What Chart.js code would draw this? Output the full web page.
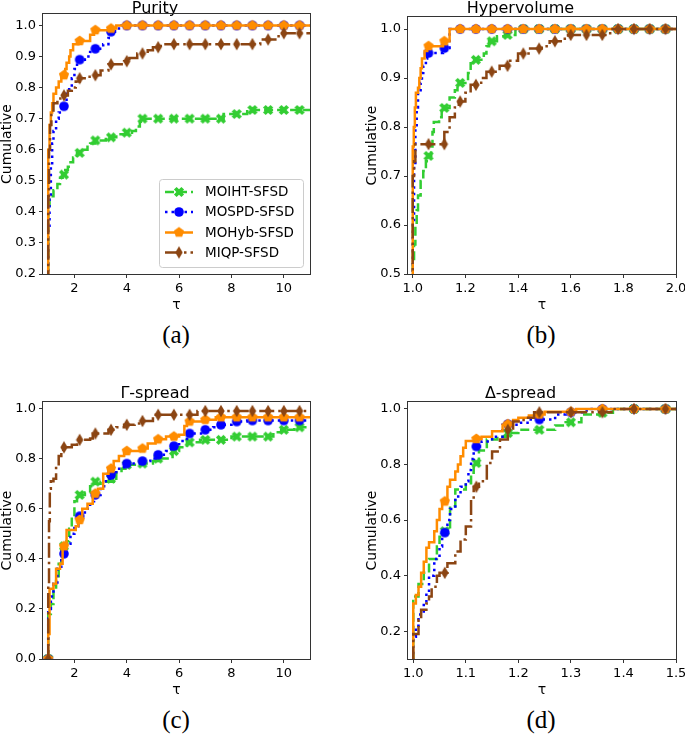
<!DOCTYPE html>
<html>
<head>
<meta charset="utf-8">
<script src="https://cdn.jsdelivr.net/npm/chart.js@4.4.1/dist/chart.umd.min.js"></script>
<style>
  body { margin: 0; background: #fff; width: 685px; height: 734px; position: relative; overflow: hidden; }
  canvas { position: absolute; }
  .cap { position: absolute; font-family: "Liberation Serif", serif; font-size: 25px; transform: translate(-50%, -50%); color: #000; }
</style>
</head>
<body>
<canvas id="cA" width="320" height="314" style="left:0;top:0"></canvas>
<canvas id="cB" width="320" height="314" style="left:365px;top:0"></canvas>
<canvas id="cC" width="320" height="314" style="left:0;top:385px"></canvas>
<canvas id="cD" width="320" height="314" style="left:365px;top:385px"></canvas>
<div class="cap" style="left:176px;top:335px">(a)</div>
<div class="cap" style="left:541px;top:335px">(b)</div>
<div class="cap" style="left:176px;top:720px">(c)</div>
<div class="cap" style="left:541px;top:720px">(d)</div>
<script>
// 手法名
const methods = ["MOIHT-SFSD", "MOSPD-SFSD", "MOHyb-SFSD", "MIQP-SFSD"]

// 目盛り
const xTicksA = [2, 4, 6, 8, 10]
const yTicksA = [0.2, 0.3, 0.4, 0.5, 0.6, 0.7, 0.8, 0.9, 1.0]
const xTicksB = [1.0, 1.2, 1.4, 1.6, 1.8, 2.0]
const yTicksB = [0.5, 0.6, 0.7, 0.8, 0.9, 1.0]
const xTicksC = [2, 4, 6, 8, 10]
const yTicksC = [0.0, 0.2, 0.4, 0.6, 0.8, 1.0]
const xTicksD = [1.0, 1.1, 1.2, 1.3, 1.4, 1.5]
const yTicksD = [0.2, 0.4, 0.6, 0.8, 1.0]

// マーカーの位置 (tau)
const mkA = [1.0, 1.6, 2.2, 2.8, 3.4, 4.0, 4.6, 5.2, 5.8, 6.4, 7.0, 7.6, 8.2, 8.8, 9.4, 10.0, 10.6]
const mkB = [1.0, 1.06, 1.12, 1.18, 1.24, 1.3, 1.36, 1.42, 1.48, 1.54, 1.6, 1.66, 1.72, 1.78, 1.84, 1.9, 1.96]
const mkC = [1.0, 1.6, 2.2, 2.8, 3.4, 4.0, 4.6, 5.2, 5.8, 6.4, 7.0, 7.6, 8.2, 8.8, 9.4, 10.0, 10.6]
const mkD = [1.0, 1.06, 1.12, 1.18, 1.24, 1.3, 1.36, 1.42, 1.48]

// (a) Purity  [tau, cumulative]
const purityMOIHT = [[1.0, 0], [1.0, 0.42], [1.05, 0.44], [1.1, 0.45], [1.2, 0.47], [1.35, 0.49], [1.45, 0.51], [1.55, 0.52], [1.65, 0.535], [1.75, 0.545], [1.85, 0.56], [1.95, 0.575], [2.1, 0.59], [2.35, 0.6], [2.5, 0.61], [2.6, 0.62], [2.8, 0.63], [3.2, 0.64], [3.6, 0.65], [4.2, 0.66], [4.35, 0.675], [4.5, 0.69], [4.6, 0.7], [7.7, 0.715], [8.6, 0.728]]
const purityMOSPD = [[1.0, 0], [1.0, 0.35], [1.05, 0.45], [1.1, 0.55], [1.15, 0.62], [1.2, 0.66], [1.3, 0.7], [1.4, 0.72], [1.5, 0.74], [1.7, 0.78], [1.8, 0.8], [1.9, 0.83], [2.0, 0.86], [2.1, 0.88], [2.2, 0.89], [2.4, 0.9], [2.6, 0.915], [2.75, 0.925], [3.1, 0.94], [3.3, 0.96], [3.4, 0.98], [3.55, 0.99], [3.8, 1.0]]
const purityMOHyb = [[1.0, 0], [1.0, 0.6], [1.05, 0.68], [1.1, 0.72], [1.15, 0.75], [1.2, 0.78], [1.3, 0.8], [1.4, 0.82], [1.5, 0.84], [1.65, 0.86], [1.7, 0.88], [1.8, 0.9], [1.85, 0.92], [1.95, 0.94], [2.15, 0.95], [2.6, 0.97], [2.75, 0.985], [3.3, 0.99], [3.6, 1.0]]
const purityMIQP = [[1.0, 0], [1.0, 0.45], [1.03, 0.6], [1.07, 0.68], [1.12, 0.72], [1.2, 0.75], [1.35, 0.765], [1.55, 0.775], [1.75, 0.79], [1.9, 0.8], [2.05, 0.82], [2.2, 0.83], [2.5, 0.835], [2.65, 0.84], [3.0, 0.855], [3.3, 0.875], [3.9, 0.885], [4.1, 0.895], [4.4, 0.91], [4.8, 0.92], [5.0, 0.93], [5.3, 0.94], [9.1, 0.955], [9.8, 0.975]]
const purityMkMOIHT = [0, 0.52, 0.59, 0.63, 0.64, 0.655, 0.7, 0.7, 0.7, 0.7, 0.7, 0.7, 0.715, 0.728, 0.728, 0.728, 0.728]
const purityMkMOSPD = [0, 0.74, 0.89, 0.925, 0.98, 1, 1, 1, 1, 1, 1, 1, 1, 1, 1, 1, 1]
const purityMkMOHyb = [0, 0.84, 0.95, 0.985, 0.99, 1, 1, 1, 1, 1, 1, 1, 1, 1, 1, 1, 1]
const purityMkMIQP = [0, 0.775, 0.83, 0.84, 0.875, 0.885, 0.91, 0.93, 0.94, 0.94, 0.94, 0.94, 0.94, 0.94, 0.955, 0.975, 0.975]

// (b) Hypervolume
const hvMOIHT = [[1.0, 0], [1.0, 0.52], [1.005, 0.56], [1.01, 0.6], [1.015, 0.63], [1.02, 0.66], [1.03, 0.69], [1.04, 0.71], [1.05, 0.73], [1.06, 0.741], [1.07, 0.76], [1.075, 0.79], [1.08, 0.81], [1.1, 0.82], [1.11, 0.839], [1.14, 0.86], [1.16, 0.875], [1.17, 0.89], [1.2, 0.895], [1.21, 0.91], [1.22, 0.93], [1.23, 0.937], [1.27, 0.95], [1.28, 0.965], [1.29, 0.975], [1.32, 0.985], [1.35, 0.988], [1.39, 1.0]]
const hvMOSPD = [[1.0, 0], [1.0, 0.6], [1.005, 0.72], [1.01, 0.8], [1.015, 0.84], [1.02, 0.87], [1.03, 0.89], [1.035, 0.91], [1.04, 0.925], [1.05, 0.94], [1.055, 0.951], [1.115, 0.961], [1.14, 1.0]]
const hvMOHyb = [[1.0, 0], [1.0, 0.76], [1.004, 0.8], [1.008, 0.84], [1.012, 0.87], [1.02, 0.88], [1.025, 0.9], [1.03, 0.92], [1.035, 0.94], [1.045, 0.955], [1.055, 0.965], [1.115, 0.975], [1.14, 1.0]]
const hvMIQP = [[1.0, 0], [1.0, 0.7], [1.005, 0.73], [1.01, 0.765], [1.12, 0.79], [1.14, 0.82], [1.16, 0.84], [1.175, 0.852], [1.2, 0.87], [1.22, 0.886], [1.26, 0.9], [1.28, 0.913], [1.33, 0.925], [1.37, 0.935], [1.4, 0.95], [1.44, 0.96], [1.49, 0.965], [1.52, 0.975], [1.57, 0.98], [1.59, 0.988], [1.75, 1.0]]
const hvMkMOIHT = [0, 0.741, 0.839, 0.89, 0.937, 0.975, 0.988, 1, 1, 1, 1, 1, 1, 1, 1, 1, 1]
const hvMkMOSPD = [0, 0.951, 0.961, 1, 1, 1, 1, 1, 1, 1, 1, 1, 1, 1, 1, 1, 1]
const hvMkMOHyb = [0, 0.965, 0.975, 1, 1, 1, 1, 1, 1, 1, 1, 1, 1, 1, 1, 1, 1]
const hvMkMIQP = [0, 0.765, 0.765, 0.852, 0.886, 0.913, 0.925, 0.95, 0.96, 0.975, 0.988, 0.988, 0.988, 1, 1, 1, 1]

// (c) Γ-spread
const gsMOIHT = [[1.0, 0], [1.0, 0.18], [1.1, 0.22], [1.2, 0.27], [1.3, 0.33], [1.4, 0.38], [1.5, 0.44], [1.7, 0.47], [1.8, 0.52], [1.9, 0.57], [2.0, 0.63], [2.1, 0.655], [2.4, 0.665], [2.6, 0.69], [2.7, 0.7], [3.0, 0.708], [3.5, 0.72], [3.6, 0.745], [3.8, 0.76], [3.95, 0.775], [4.5, 0.78], [5.0, 0.79], [5.2, 0.8], [5.75, 0.83], [6.0, 0.845], [6.3, 0.865], [6.8, 0.875], [8.0, 0.888], [9.6, 0.905], [9.9, 0.915], [10.4, 0.925]]
const gsMOSPD = [[1.0, 0], [1.0, 0.2], [1.1, 0.25], [1.2, 0.3], [1.35, 0.36], [1.5, 0.4], [1.6, 0.42], [1.7, 0.46], [1.85, 0.5], [2.0, 0.53], [2.15, 0.57], [2.4, 0.6], [2.6, 0.63], [2.75, 0.655], [3.0, 0.69], [3.2, 0.72], [3.35, 0.735], [3.6, 0.76], [3.9, 0.78], [4.5, 0.79], [4.9, 0.8], [5.1, 0.815], [5.5, 0.83], [5.7, 0.85], [6.0, 0.87], [6.3, 0.9], [6.9, 0.915], [7.3, 0.925], [7.5, 0.935], [8.0, 0.948], [8.6, 0.952]]
const gsMOHyb = [[1.0, 0], [1.0, 0.1], [1.05, 0.28], [1.2, 0.3], [1.3, 0.36], [1.45, 0.38], [1.55, 0.45], [1.7, 0.515], [2.05, 0.53], [2.15, 0.555], [2.3, 0.6], [2.5, 0.62], [2.7, 0.66], [2.9, 0.68], [3.1, 0.74], [3.3, 0.76], [3.5, 0.79], [3.7, 0.81], [3.9, 0.83], [4.5, 0.84], [4.8, 0.86], [5.1, 0.877], [5.5, 0.888], [6.0, 0.895], [6.2, 0.93], [6.3, 0.948], [6.9, 0.955], [7.4, 0.965]]
const gsMIQP = [[1.0, 0], [1.0, 0.3], [1.03, 0.55], [1.06, 0.68], [1.1, 0.71], [1.2, 0.72], [1.3, 0.77], [1.4, 0.81], [1.5, 0.835], [1.7, 0.845], [1.9, 0.855], [2.1, 0.875], [2.6, 0.88], [2.7, 0.9], [3.3, 0.915], [3.6, 0.925], [3.9, 0.935], [4.3, 0.94], [4.6, 0.95], [5.0, 0.975], [6.7, 0.99]]
const gsMkMOIHT = [0, 0.45, 0.655, 0.708, 0.72, 0.775, 0.78, 0.8, 0.83, 0.865, 0.875, 0.875, 0.888, 0.888, 0.888, 0.915, 0.925]
const gsMkMOSPD = [0, 0.42, 0.57, 0.655, 0.735, 0.78, 0.79, 0.815, 0.85, 0.9, 0.915, 0.935, 0.948, 0.952, 0.952, 0.952, 0.952]
const gsMkMOHyb = [0, 0.45, 0.555, 0.66, 0.76, 0.83, 0.84, 0.877, 0.888, 0.948, 0.955, 0.965, 0.965, 0.965, 0.965, 0.965, 0.965]
const gsMkMIQP = [0, 0.845, 0.875, 0.9, 0.915, 0.935, 0.95, 0.975, 0.975, 0.975, 0.99, 0.99, 0.99, 0.99, 0.99, 0.99, 0.99]

// (d) Δ-spread
const dsMOIHT = [[1.0, 0], [1.0, 0.325], [1.01, 0.37], [1.02, 0.41], [1.03, 0.46], [1.045, 0.505], [1.05, 0.54], [1.06, 0.56], [1.07, 0.65], [1.08, 0.71], [1.1, 0.733], [1.11, 0.77], [1.115, 0.805], [1.125, 0.85], [1.14, 0.89], [1.16, 0.9], [1.18, 0.913], [1.2, 0.925], [1.27, 0.94], [1.29, 0.952], [1.32, 0.98], [1.36, 0.986], [1.38, 1.0]]
const dsMOSPD = [[1.0, 0], [1.0, 0.18], [1.005, 0.22], [1.01, 0.26], [1.02, 0.3], [1.025, 0.34], [1.03, 0.4], [1.04, 0.46], [1.05, 0.505], [1.055, 0.555], [1.065, 0.6], [1.07, 0.64], [1.08, 0.685], [1.09, 0.72], [1.1, 0.74], [1.105, 0.78], [1.11, 0.82], [1.115, 0.865], [1.13, 0.883], [1.15, 0.9], [1.17, 0.943], [1.2, 0.95], [1.22, 0.962], [1.27, 0.98], [1.29, 0.988], [1.33, 1.0]]
const dsMOHyb = [[1.0, 0], [1.0, 0.3], [1.005, 0.33], [1.01, 0.36], [1.015, 0.41], [1.02, 0.45], [1.025, 0.5], [1.03, 0.52], [1.04, 0.56], [1.045, 0.6], [1.05, 0.64], [1.055, 0.667], [1.065, 0.72], [1.07, 0.745], [1.08, 0.775], [1.085, 0.8], [1.09, 0.83], [1.095, 0.86], [1.1, 0.885], [1.12, 0.892], [1.13, 0.9], [1.15, 0.92], [1.17, 0.943], [1.19, 0.96], [1.2, 0.968], [1.22, 0.976], [1.24, 0.98], [1.25, 0.99], [1.31, 1.0]]
const dsMIQP = [[1.0, 0], [1.0, 0.19], [1.01, 0.24], [1.015, 0.277], [1.025, 0.3], [1.03, 0.325], [1.035, 0.36], [1.045, 0.4], [1.05, 0.41], [1.065, 0.445], [1.08, 0.487], [1.09, 0.53], [1.1, 0.577], [1.11, 0.673], [1.115, 0.72], [1.125, 0.74], [1.14, 0.805], [1.15, 0.847], [1.165, 0.89], [1.18, 0.925], [1.19, 0.955], [1.21, 0.968], [1.23, 0.988], [1.38, 1.0]]
const dsMkMOIHT = [0, 0.56, 0.805, 0.913, 0.925, 0.952, 0.986, 1, 1]
const dsMkMOSPD = [0, 0.555, 0.865, 0.945, 0.962, 0.988, 1, 1, 1]
const dsMkMOHyb = [0, 0.667, 0.892, 0.945, 0.98, 0.99, 1, 1, 1]
const dsMkMIQP = [0, 0.41, 0.72, 0.925, 0.988, 0.988, 0.988, 1, 1]

// 見た目
const colors = ["#32cd32", "#0000ff", "#ff8c00", "#8b4513"]
const dashes = [[9, 4], [2.5, 4], [], [15, 4, 2.5, 4]]
const shapes = ["X", "o", "p", "d"]
const fontFamily = "'DejaVu Sans', sans-serif"

function makeMarker(shape, color) {
  const c = document.createElement("canvas")
  c.width = 14
  c.height = 14
  const g = c.getContext("2d")
  g.fillStyle = color
  g.translate(7, 7)
  g.beginPath()
  if (shape === "o") {
    g.arc(0, 0, 4.8, 0, Math.PI * 2)
  } else if (shape === "p") {
    for (let i = 0; i < 5; i++) {
      let a = -Math.PI / 2 + i * 2 * Math.PI / 5
      g.lineTo(5.4 * Math.cos(a), 5.4 * Math.sin(a))
    }
  } else if (shape === "d") {
    g.moveTo(0, -6.2)
    g.lineTo(3.7, 0)
    g.lineTo(0, 6.2)
    g.lineTo(-3.7, 0)
  } else {
    g.rotate(Math.PI / 4)
    let a = 5.3, t = 1.9
    let p = [[t, -a], [t, -t], [a, -t], [a, t], [t, t], [t, a], [-t, a], [-t, t], [-a, t], [-a, -t], [-t, -t], [-t, -a]]
    p.forEach((q) => g.lineTo(q[0], q[1]))
  }
  g.closePath()
  g.fill()
  return c
}
const markers = shapes.map((s, i) => makeMarker(s, colors[i]))

// 枠線
const frame = {
  id: "frame",
  afterDatasetsDraw(chart) {
    const { ctx, chartArea: a } = chart
    ctx.save()
    ctx.strokeStyle = "#333"
    ctx.lineWidth = 1
    ctx.strokeRect(Math.round(a.left) - 0.5, Math.round(a.top) - 0.5, Math.round(a.right - a.left) + 1, Math.round(a.bottom - a.top) + 1)
    ctx.restore()
  },
}

// 凡例 (Purity のみ、右下)
const innerLegend = {
  id: "innerLegend",
  afterDraw(chart) {
    const ctx = chart.ctx
    ctx.save()
    ctx.beginPath()
    ctx.roundRect(159.5, 179.5, 144, 88, 3)
    ctx.fillStyle = "rgba(255,255,255,0.8)"
    ctx.fill()
    ctx.strokeStyle = "#cccccc"
    ctx.lineWidth = 1
    ctx.stroke()
    let rows = [192, 212, 232.5, 252.5]
    methods.forEach((m, i) => {
      ctx.beginPath()
      ctx.setLineDash(dashes[i])
      ctx.strokeStyle = colors[i]
      ctx.lineWidth = 2.5
      ctx.moveTo(165, rows[i])
      ctx.lineTo(193, rows[i])
      ctx.stroke()
      ctx.setLineDash([])
      ctx.drawImage(markers[i], 179 - 7, rows[i] - 7)
      ctx.fillStyle = "#000"
      ctx.font = "13.5px " + fontFamily
      ctx.textBaseline = "middle"
      ctx.fillText(m, 205, rows[i] + 0.5)
    })
    ctx.restore()
  },
}

function buildDatasets(series, mkX, mkY, xmax) {
  let ds = []
  series.forEach((pts, i) => {
    let d = pts.map((p) => ({ x: p[0], y: p[1] }))
    d.push({ x: xmax, y: pts[pts.length - 1][1] })
    ds.push({
      label: methods[i],
      data: d,
      borderColor: colors[i],
      borderWidth: 2.5,
      borderDash: dashes[i],
      stepped: true,
      pointRadius: 0,
      fill: false,
      clip: 0,
      order: 8 - 2 * i,
    })
    ds.push({
      label: methods[i] + " markers",
      data: mkX.map((x, k) => ({ x: x, y: mkY[i][k] })),
      showLine: false,
      pointStyle: markers[i],
      pointRadius: 6,
      clip: 0,
      order: 7 - 2 * i,
    })
  })
  return ds
}

function panel(id, o) {
  const fmt = (v) => (o.intX ? String(v) : v.toFixed(1))
  new Chart(document.getElementById(id), {
    type: "line",
    data: { datasets: buildDatasets(o.series, o.mkX, o.mkY, o.xmax) },
    options: {
      responsive: false,
      animation: false,
      events: [],
      layout: { padding: { left: 0, right: o.padR, top: 0, bottom: 0 } },
      plugins: {
        legend: { display: false },
        tooltip: { enabled: false },
        title: {
          display: true,
          text: o.title,
          color: "#000",
          font: { family: fontFamily, size: 16, weight: "normal", lineHeight: 0.7 },
          padding: { top: 2.8, bottom: o.titlePad },
        },
      },
      scales: {
        x: {
          type: "linear",
          min: o.xmin,
          max: o.xmax,
          afterBuildTicks: (s) => { s.ticks = o.xTicks.map((v) => ({ value: v })) },
          afterFit: (s) => { s.height = 40; s.paddingLeft = 0; s.paddingRight = 0 },
          ticks: { callback: fmt, color: "#000", font: { family: fontFamily, size: 13 }, maxRotation: 0, autoSkip: false, padding: 3 },
          grid: { display: true, drawOnChartArea: false, drawTicks: true, tickLength: 4, color: "#333" },
          border: { display: false },
          title: { display: true, text: "τ", color: "#000", font: { family: fontFamily, size: 14 }, padding: 0 },
        },
        y: {
          type: "linear",
          min: o.ymin,
          max: o.ymax,
          afterBuildTicks: (s) => { s.ticks = o.yTicks.map((v) => ({ value: v })) },
          afterFit: (s) => { s.width = 43; s.paddingTop = 0; s.paddingBottom = 0 },
          ticks: { callback: (v) => v.toFixed(1), color: "#000", font: { family: fontFamily, size: 13 }, autoSkip: false, padding: 3 },
          grid: { display: true, drawOnChartArea: false, drawTicks: true, tickLength: 4, color: "#333" },
          border: { display: false },
          title: { display: true, text: "Cumulative", color: "#000", font: { family: fontFamily, size: 14, lineHeight: 1 }, padding: 0 },
        },
      },
    },
    plugins: o.legend ? [frame, innerLegend] : [frame],
  })
}

panel("cA", {
  title: "Purity", titlePad: 0, padR: 10, intX: true,
  xmin: 0.8, xmax: 11.0, ymin: 0.2, ymax: 1.037,
  xTicks: xTicksA, yTicks: yTicksA, mkX: mkA,
  series: [purityMOIHT, purityMOSPD, purityMOHyb, purityMIQP],
  mkY: [purityMkMOIHT, purityMkMOSPD, purityMkMOHyb, purityMkMIQP],
  legend: true,
})
panel("cB", {
  title: "Hypervolume", titlePad: 3, padR: 9, intX: false,
  xmin: 0.982, xmax: 2.0, ymin: 0.5, ymax: 1.0245,
  xTicks: xTicksB, yTicks: yTicksB, mkX: mkB,
  series: [hvMOIHT, hvMOSPD, hvMOHyb, hvMIQP],
  mkY: [hvMkMOIHT, hvMkMOSPD, hvMkMOHyb, hvMkMIQP],
})
panel("cC", {
  title: "Γ-spread", titlePad: 3, padR: 10, intX: true,
  xmin: 0.8, xmax: 11.0, ymin: 0, ymax: 1.026,
  xTicks: xTicksC, yTicks: yTicksC, mkX: mkC,
  series: [gsMOIHT, gsMOSPD, gsMOHyb, gsMIQP],
  mkY: [gsMkMOIHT, gsMkMOSPD, gsMkMOHyb, gsMkMIQP],
})
panel("cD", {
  title: "Δ-spread", titlePad: 3, padR: 9, intX: false,
  xmin: 0.99, xmax: 1.5, ymin: 0.1, ymax: 1.025,
  xTicks: xTicksD, yTicks: yTicksD, mkX: mkD,
  series: [dsMOIHT, dsMOSPD, dsMOHyb, dsMIQP],
  mkY: [dsMkMOIHT, dsMkMOSPD, dsMkMOHyb, dsMkMIQP],
})
</script>
</body>
</html>
